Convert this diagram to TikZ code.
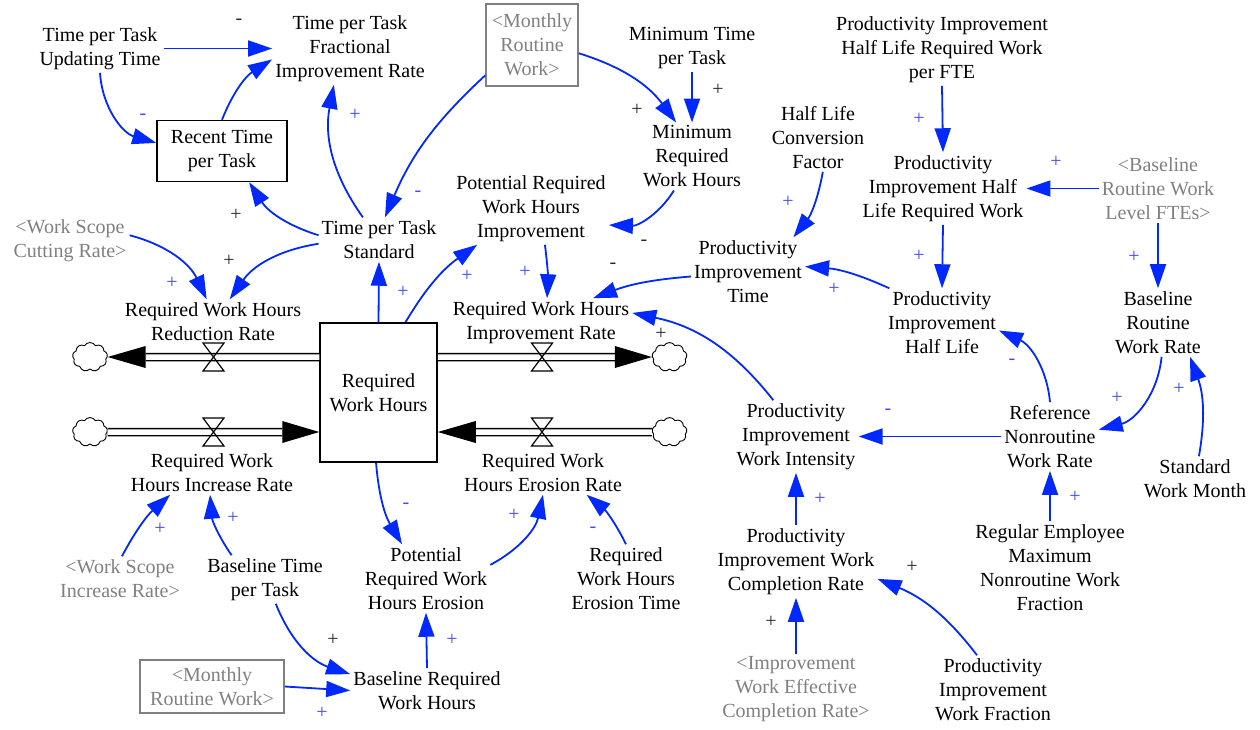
\documentclass[tikz,border=0pt]{standalone}
\usepackage{fontspec}
\setmainfont{Liberation Serif}
\usetikzlibrary{arrows.meta,shapes.symbols}
\definecolor{linkblue}{RGB}{0,40,255}
\definecolor{polblue}{RGB}{70,70,255}
\definecolor{polblack}{RGB}{40,40,40}
\definecolor{shadowgray}{RGB}{128,128,128}

\begin{document}
\begin{tikzpicture}[x=1pt,y=1pt,
  base/.style={align=center, inner sep=3pt, font=\fontsize{20}{24}\selectfont},
  var/.style={base, yshift=-1.5pt},
  shadowvar/.style={var, text=shadowgray},
  shadowbox/.style={base, text=shadowgray, draw=shadowgray, line width=1.5pt},
  stockbox/.style={base, draw=black, line width=1.5pt},
  link/.style={draw=linkblue, line width=1.8pt, -{Triangle[length=24pt,width=16pt]}},
  polp/.style={text=polblue, font=\fontsize{20}{20}\selectfont, inner sep=0pt},
  polk/.style={text=polblack, font=\fontsize{20}{20}\selectfont, inner sep=0pt},
  pipe/.style={line width=1.5pt, double=white, double distance=5.5pt},
  valveline/.style={line width=1.2pt, line join=miter},
  cloudy/.style={cloud, cloud puffs=9, cloud puff arc=120, aspect=1.25, draw,
    line width=0.9pt, inner sep=0pt, minimum width=35pt, minimum height=29pt}
]
\useasboundingbox (0,0) rectangle (1260,-729);

% ---- variables, stocks and shadow variables ----
\node[var] (tptut) at (100,-47) {Time per Task\\Updating Time};
\node[var] (tptfir) at (350,-47) {Time per Task\\Fractional\\Improvement Rate};
\node[shadowbox, minimum width=92pt, minimum height=82pt] (mrwA) at (532,-45) {<Monthly\\Routine\\Work>};
\node[var] (mintpt) at (692,-47) {Minimum Time\\per Task};
\node[var] (pihlrwpf) at (942,-48) {Productivity Improvement\\Half Life Required Work\\per FTE};
\node[stockbox, minimum width=130pt, minimum height=61pt] (rtpt) at (222,-151) {Recent Time\\per Task};
\node[var] (hlcf) at (818,-136) {Half Life\\Conversion\\Factor};
\node[var] (mrwh) at (692,-155) {Minimum\\Required\\Work Hours};
\node[var] (pihlrw) at (943,-187) {Productivity\\Improvement Half\\Life Required Work};
\node[shadowvar] (brwlf) at (1158,-187) {<Baseline\\Routine Work\\Level FTEs>};
\node[shadowvar] (wscr) at (70,-239) {<Work Scope\\Cutting Rate>};
\node[var] (tpts) at (379,-238) {Time per Task\\Standard};
\node[var] (prwhi) at (531,-207) {Potential Required\\Work Hours\\Improvement};
\node[var] (pit) at (748,-270) {Productivity\\Improvement\\Time};
\node[var] (pihl) at (942,-321) {Productivity\\Improvement\\Half Life};
\node[var] (brwr) at (1158,-321) {Baseline\\Routine\\Work Rate};
\node[var] (rwhrr) at (213,-320) {Required Work Hours\\Reduction Rate};
\node[stockbox, minimum width=117pt, minimum height=139pt] (rwh) at (378.5,-392.5) {Required\\Work Hours};
\node[var] (rwhir) at (541,-321) {Required Work Hours\\Improvement Rate};
\node[var] (piwi) at (796,-435) {Productivity\\Improvement\\Work Intensity};
\node[var] (rnwr) at (1050,-435) {Reference\\Nonroutine\\Work Rate};
\node[var] (swm) at (1195,-477) {Standard\\Work Month};
\node[var] (rwhincr) at (212,-471) {Required Work\\Hours Increase Rate};
\node[var] (rwher) at (543,-471) {Required Work\\Hours Erosion Rate};
\node[var] (piwcr) at (796,-560) {Productivity\\Improvement Work\\Completion Rate};
\node[var] (remnwf) at (1050,-566) {Regular Employee\\Maximum\\Nonroutine Work\\Fraction};
\node[shadowvar] (wsir) at (120,-577) {<Work Scope\\Increase Rate>};
\node[var] (btpt) at (265,-578) {Baseline Time\\per Task};
\node[var] (prwhe) at (426,-577) {Potential\\Required Work\\Hours Erosion};
\node[var] (rwhet) at (626,-577) {Required\\Work Hours\\Erosion Time};
\node[shadowbox, minimum width=144pt, minimum height=53pt] (mrwB) at (212,-686.5) {<Monthly\\Routine Work>};
\node[var] (brwh) at (427,-689) {Baseline Required\\Work Hours};
\node[shadowvar] (iwecr) at (796,-688) {<Improvement\\Work Effective\\Completion Rate>};
\node[var] (piwf) at (993,-688) {Productivity\\Improvement\\Work Fraction};

% ---- flows: valves, clouds, pipes ----
\coordinate (vUL) at (213.5,-357);
\coordinate (vUR) at (542,-357);
\coordinate (vLL) at (213.5,-432);
\coordinate (vLR) at (542,-432);
\node[cloudy] (cUL) at (90,-357) {};
\node[cloudy] (cUR) at (669.5,-357) {};
\node[cloudy] (cLL) at (90,-432) {};
\node[cloudy] (cLR) at (669.5,-432) {};
\coordinate (oUL) at (rwh.west |- vUL);
\coordinate (oUR) at (rwh.east |- vUR);
\coordinate (iLL) at (rwh.west |- vLL);
\coordinate (iLR) at (rwh.east |- vLR);

\draw[pipe] (oUL) -- ([xshift=38pt]cUL.east);
\fill (cUL.east) -- ++(38,11) -- ++(0,-22) -- cycle;
\draw[pipe] (oUR) -- ([xshift=-37pt]cUR.west);
\fill (cUR.west) -- ++(-37,11) -- ++(0,-22) -- cycle;
\draw[pipe] (cLL.east) -- ([xshift=-37pt]iLL);
\fill (iLL) -- ++(-37,11) -- ++(0,-22) -- cycle;
\draw[pipe] (cLR.west) -- ([xshift=38pt]iLR);
\fill (iLR) -- ++(38,11) -- ++(0,-22) -- cycle;

\foreach \v in {vUL,vUR,vLL,vLR}
  \draw[valveline] (\v) +(-10.5,14) -- +(10.5,14) -- +(-10.5,-14) -- +(10.5,-14) -- cycle;

% ---- causal links ----
\draw[link] (tptut.east) -- (tptfir.west);
\draw[link] (tptut.south) to[bend right=35] (rtpt.173);
\draw[link] (rtpt.north) to[bend left=18] (tptfir.188);
\draw[link] (tpts.126) to[bend left=23] (tptfir.246);
\draw[link] (mrwA.213) to[bend right=12] (tpts.75);
\draw[link] (mrwA.-10) to[bend left=18] (mrwh.115);
\draw[link] (mintpt.south) -- (mrwh.north);
\draw[link] (mrwh.242) to[bend left=30] (prwhi.-12);
\draw[link] (tpts.176) to[bend left=20] (rtpt.-49);
\draw[link] (tpts.184) to[bend right=23] (rwhrr.53);
\draw[link] (wscr.5) to[bend left=25] (rwhrr.106);
\draw[link] (rwh.north) -- (tpts.south);
\draw[link] (rwh.69) to[bend left=12] (prwhi.214);
\draw[link] (prwhi.291) to[bend left=5] (rwhir.76);
\draw[link] (pit.185) to[bend right=8] (rwhir.25);
\draw[link] (pihl.147) to[bend right=10] (pit.5);
\draw[link] (hlcf.-82) to[bend left=14] (pit.37);
\draw[link] (pihlrwpf.south) -- (pihlrw.north);
\draw[link] (brwlf.west) -- (pihlrw.east);
\draw[link] (pihlrw.south) -- (pihl.north);
\draw[link] (brwlf.south) -- (brwr.north);
\draw[link] (rnwr.north) to[bend right=30] (pihl.-8);
\draw[link] (brwr.-84) to[bend left=35] (rnwr.8);
\draw[link] (swm.80) to[bend right=15] (brwr.-47);
\draw[link] (rnwr.west) -- (piwi.east);
\draw[link] (remnwf.north) -- (rnwr.south);
\draw[link] (piwi.122) to[bend right=20] (rwhir.6);
\draw[link] (piwcr.north) -- (piwi.south);
\draw[link] (iwecr.north) -- (piwcr.south);
\draw[link] (piwf.115) to[bend right=15] (piwcr.-12);
\draw[link] (rwh.-92) to[bend right=13] (prwhe.125);
\draw[link] (prwhe.12) to[bend right=25] (rwher.south);
\draw[link] (rwhet.north) to[bend right=12] (rwher.-27);
\draw[link] (brwh.north) -- (prwhe.south);
\draw[link] (btpt.-66) to[bend right=25] (brwh.168);
\draw[link] (mrwB.east) -- (brwh.west);
\draw[link] (wsir.85) to[bend left=10] (rwhincr.208);
\draw[link] (btpt.144) to[bend left=15] (rwhincr.265);

% ---- link polarities ----
\node[polk] (p1) at (239,-22) {-};
\node[polp] (p2) at (143,-117) {-};
\node[polp] (p4) at (355,-115) {+};
\node[polp] (p5) at (418,-194) {-};
\node[polk] (p6) at (637,-110) {+};
\node[polk] (p7) at (718,-90) {+};
\node[polk] (p8) at (644,-243) {-};
\node[polk] (p9) at (236,-215) {+};
\node[polk] (p10) at (229,-261) {+};
\node[polp] (p11) at (172,-283) {+};
\node[polp] (p12) at (403,-292) {+};
\node[polp] (p13) at (467,-276) {+};
\node[polp] (p14) at (525,-272) {+};
\node[polk] (p15) at (613,-266) {-};
\node[polp] (p16) at (834,-289) {+};
\node[polp] (p17) at (788,-202) {+};
\node[polp] (p18) at (919,-119) {+};
\node[polp] (p19) at (1056,-162) {+};
\node[polp] (p20) at (919,-256) {+};
\node[polp] (p21) at (1134,-257) {+};
\node[polp] (p22) at (1012,-362) {-};
\node[polp] (p23) at (1117,-398) {+};
\node[polp] (p24) at (1179,-389) {+};
\node[polp] (p25) at (888,-412) {-};
\node[polp] (p26) at (1075,-497) {+};
\node[polk] (p27) at (661,-334) {+};
\node[polp] (p28) at (820,-499) {+};
\node[polk] (p29) at (771,-622) {+};
\node[polk] (p30) at (912,-567) {+};
\node[polp] (p31) at (406,-506) {-};
\node[polp] (p32) at (514,-515) {+};
\node[polp] (p33) at (593,-530) {-};
\node[polp] (p34) at (452,-640) {+};
\node[polk] (p35) at (333,-640) {+};
\node[polp] (p36) at (322,-713) {+};
\node[polp] (p37) at (160,-529) {+};
\node[polp] (p38) at (233,-518) {+};
\end{tikzpicture}
\end{document}
